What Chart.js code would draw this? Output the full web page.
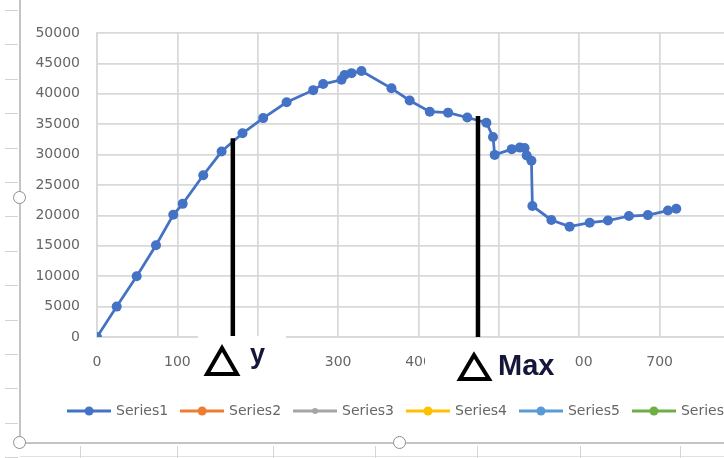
<!DOCTYPE html>
<html>
<head>
<meta charset="utf-8">
<script src="https://cdn.jsdelivr.net/npm/chart.js@4.4.1/dist/chart.umd.min.js"></script>
<style>
  html, body { margin: 0; padding: 0; background: #fff; overflow: hidden; }
  #wrap { position: relative; width: 724px; height: 458px; overflow: hidden; }
  #chart { position: absolute; left: 0; top: 0; z-index: 1; }
  .row { position: absolute; left: 5px; width: 13px; height: 1px; background: #d2d2d2; }
  .col { position: absolute; top: 446px; width: 1px; height: 12px; background: #d6d6d6; }
  .frame { position: absolute; background: #c4c4c4; }
  .handle { position: absolute; width: 11px; height: 11px; border: 1.5px solid #8c8c8c; border-radius: 50%; background: #fff; z-index: 3; }
  .cover { position: absolute; background: #fff; z-index: 2; }
  .note { position: absolute; z-index: 3; font-family: "Liberation Sans", Arial, sans-serif; font-weight: bold; line-height: 1; color: #16163a; white-space: nowrap; }
  #marks { position: absolute; left: 0; top: 0; z-index: 3; }
</style>
</head>
<body>
<div id="wrap">
  <div class="frame" style="left:19px;top:0;width:2px;height:444px"></div>
  <div class="frame" style="left:19px;top:442px;width:705px;height:2px"></div>
  <div class="frame" style="left:20px;top:456px;width:704px;height:1px;background:#e2e2e2"></div>
  <div id="rows"></div>
  <div id="cols"></div>
  <canvas id="chart" width="802" height="458"></canvas>
  <div class="cover" style="left:198px;top:336px;width:88px;height:44px"></div>
  <div class="cover" style="left:425px;top:339px;width:150px;height:47px"></div>
  <svg id="marks" width="724" height="458">
    <polygon points="222,348 207,374 237,374" fill="none" stroke="#000" stroke-width="4"/>
    <polygon points="474,355 460,379 489,379" fill="none" stroke="#000" stroke-width="4"/>
  </svg>
  <div class="note" style="left:250px;top:341px;font-size:27px">y</div>
  <div class="note" style="left:498px;top:351px;font-size:29px">Max</div>
  <div class="handle" style="left:13px;top:191px"></div>
  <div class="handle" style="left:13px;top:436px"></div>
  <div class="handle" style="left:393px;top:436px"></div>
</div>
<script>
// valeurs (Series1)
const series1X = [0, 24.5, 49.4, 73.4, 94.9, 106.6, 132.2, 155, 181, 206.8, 235.9, 269, 281.4, 304.2, 308, 316.7, 329,
                  366.4, 389, 414, 436.8, 460.7, 484.5, 492.7, 494.8, 516, 526, 532, 534.6, 540.5, 541.7,
                  565.3, 588, 613, 635.7, 661.8, 685.4, 710.3, 720.7];
const series1Y = [0, 5000, 10000, 15100, 20100, 21900, 26600, 30500, 33500, 36000, 38600, 40600, 41600, 42300, 43100, 43400, 43750,
                  40900, 38900, 37050, 36900, 36100, 35250, 32900, 29950, 30900, 31150, 31100, 29850, 29000, 21550,
                  19250, 18150, 18800, 19150, 19900, 20050, 20800, 21100];

const seriesNames = ['Series1', 'Series2', 'Series3', 'Series4', 'Series5', 'Series6'];
const seriesColors = ['#4472C4', '#ED7D31', '#A5A5A5', '#FFC000', '#5B9BD5', '#70AD47'];

// traits verticaux "Δ y" et "Δ Max"
const deltaYLineX = [169, 169];
const deltaYLineY = [0, 32700];
const deltaMaxLineX = [474, 474];
const deltaMaxLineY = [0, 36350];

const xTickMin = 0, xTickMax = 800, xTickStep = 100;
const yTickMin = 0, yTickMax = 50000, yTickStep = 5000;

// --- petits traits de la feuille Excel derrière le graphique ---
const rows = document.getElementById('rows');
for (let y = 10; y < 458; y += 34.4) {
    const d = document.createElement('div');
    d.className = 'row';
    d.style.top = Math.round(y) + 'px';
    rows.appendChild(d);
}
const cols = document.getElementById('cols');
[80, 177, 273, 375, 477, 580, 680].forEach(x => {
    const d = document.createElement('div');
    d.className = 'col';
    d.style.left = x + 'px';
    cols.appendChild(d);
});

const toPoints = (xs, ys) => xs.map((x, i) => ({ x: x, y: ys[i] }));

function legendIcon(color, r) {
    const c = document.createElement('canvas');
    c.width = 44; c.height = 12;
    const g = c.getContext('2d');
    g.strokeStyle = color; g.lineWidth = 3;
    g.beginPath(); g.moveTo(0, 6); g.lineTo(44, 6); g.stroke();
    g.fillStyle = color;
    g.beginPath(); g.arc(22, 6, r, 0, Math.PI * 2); g.fill();
    return c;
}

const gridColor = '#d9d9d9';
const textColor = '#666666';
Chart.defaults.font.family = '"DejaVu Sans", sans-serif';
Chart.defaults.font.size = 14;
Chart.defaults.color = textColor;

const datasets = seriesNames.map((name, i) => ({
    label: name,
    data: i === 0 ? toPoints(series1X, series1Y) : [],
    showLine: true,
    borderColor: seriesColors[i],
    backgroundColor: seriesColors[i],
    borderWidth: 2.75,
    pointRadius: 5,
    pointBorderWidth: 0,
    order: 2
}));

[[deltaYLineX, deltaYLineY], [deltaMaxLineX, deltaMaxLineY]].forEach(([xs, ys]) => {
    datasets.push({
        label: '',
        data: toPoints(xs, ys),
        showLine: true,
        borderColor: '#000',
        borderWidth: 4.5,
        borderCapStyle: 'butt',
        pointRadius: 0,
        order: 0
    });
});

new Chart(document.getElementById('chart'), {
    type: 'scatter',
    data: { datasets: datasets },
    options: {
        responsive: false,
        animation: false,
        layout: { padding: { top: 33, left: 0, right: 0, bottom: 30 } },
        scales: {
            x: {
                type: 'linear',
                min: xTickMin, max: xTickMax,
                afterFit: s => { s.height = 53; s.paddingRight = 62; },
                ticks: { stepSize: xTickStep, padding: 17, maxRotation: 0, autoSkip: false, callback: v => String(v) },
                grid: { color: gridColor, lineWidth: 1.75, drawTicks: false },
                border: { color: gridColor, width: 1.75 }
            },
            y: {
                min: yTickMin, max: yTickMax,
                afterFit: s => { s.width = 97; },
                ticks: { stepSize: yTickStep, padding: 17, callback: v => String(v) },
                grid: { color: gridColor, lineWidth: 1.75, drawTicks: false },
                border: { color: gridColor, width: 1.75 }
            }
        },
        plugins: {
            tooltip: { enabled: false },
            legend: {
                position: 'bottom',
                labels: {
                    usePointStyle: true,
                    pointStyleWidth: 40,
                    padding: 14,
                    color: textColor,
                    font: { size: 14 },
                    filter: item => item.datasetIndex < seriesNames.length,
                    generateLabels: chart => Chart.defaults.plugins.legend.labels.generateLabels(chart).map(item => ({
                        ...item,
                        pointStyle: legendIcon(seriesColors[item.datasetIndex] || '#000', item.datasetIndex === 2 ? 3 : 4.5)
                    }))
                }
            }
        }
    }
});
</script>
</body>
</html>
